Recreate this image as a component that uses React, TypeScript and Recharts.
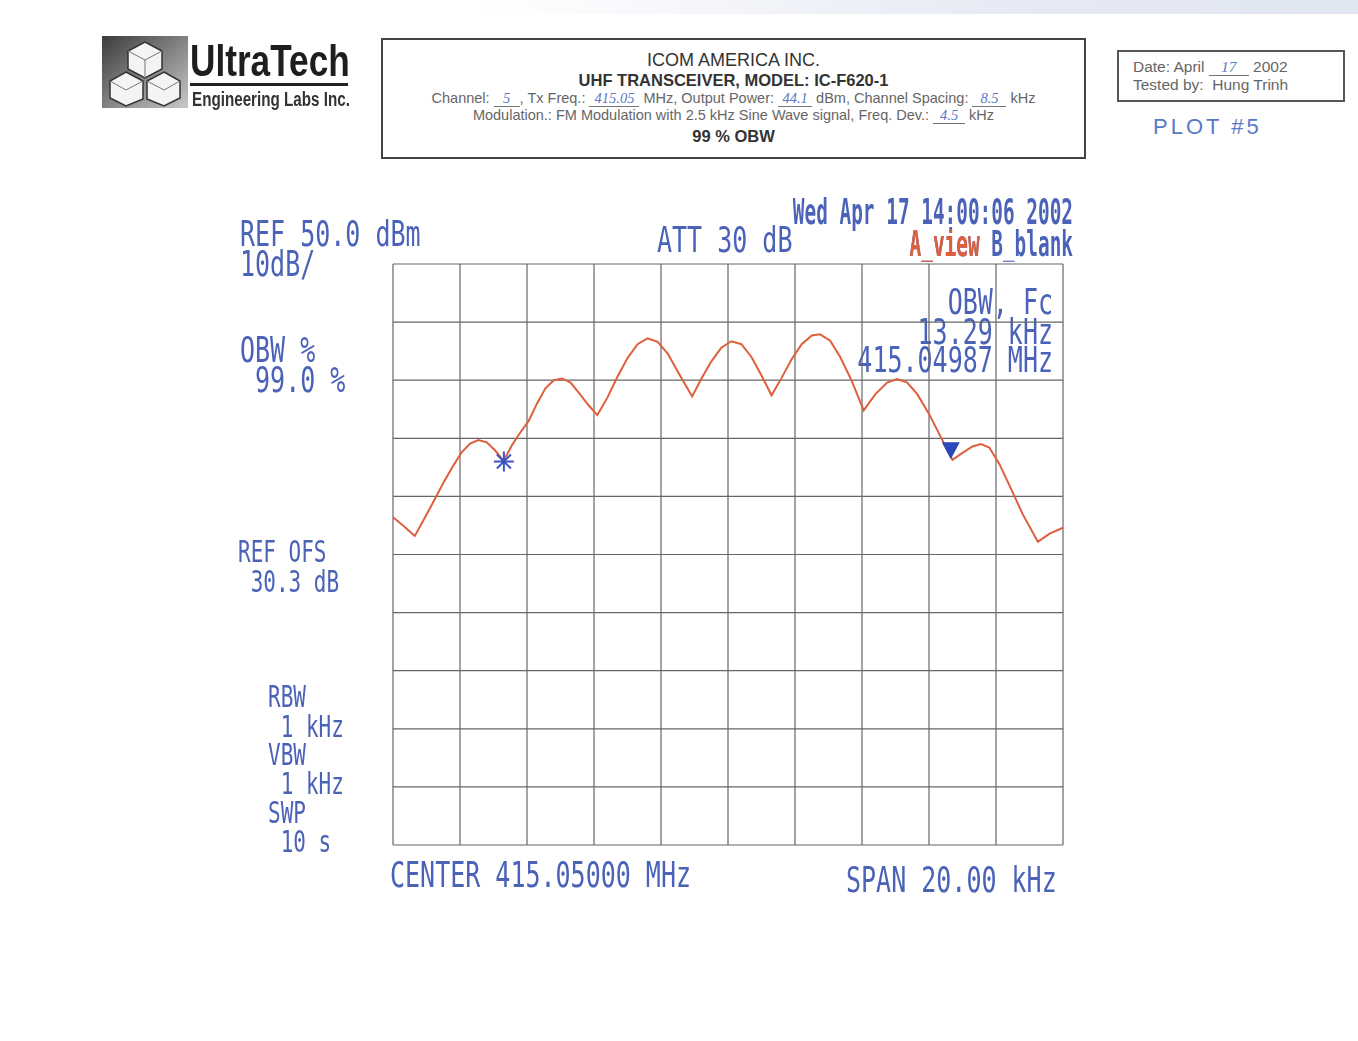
import React from 'react';
import {
  ComposedChart, Line, XAxis, YAxis, ReferenceLine, ReferenceDot,
} from 'recharts';

// frequency offset from centre (kHz) and level (dBm) of the A trace
const freqKHz = [
  -10.0, -9.7, -9.35, -9.1, -8.8, -8.5, -8.2, -7.95, -7.7, -7.45, -7.2, -6.95, -6.7,
  -6.45, -6.2, -5.95, -5.7, -5.45, -5.2, -4.95, -4.7, -4.45, -4.15, -3.9,
  -3.6, -3.3, -3.0, -2.7, -2.4, -2.1, -1.8, -1.45, -1.07,
  -0.8, -0.5, -0.2, 0.1, 0.4, 0.7, 1.0, 1.3,
  1.6, 1.9, 2.2, 2.5, 2.75, 3.05, 3.35, 3.7, 4.05,
  4.4, 4.75, 5.05, 5.35, 5.65, 6.0, 6.3, 6.7,
  7.0, 7.3, 7.55, 7.8, 8.1, 8.45, 8.8, 9.25, 9.6, 10.0,
];
const levelDbm = [
  6.4, 5.0, 3.2, 5.8, 9.0, 12.3, 15.3, 17.6, 19.1, 19.7, 19.3, 17.9, 16.1,
  18.8, 21.0, 23.0, 26.0, 28.6, 30.0, 30.3, 29.6, 27.8, 25.6, 24.0,
  27.0, 30.6, 33.8, 36.2, 37.2, 36.6, 34.6, 31.0, 27.2,
  30.2, 33.2, 35.6, 36.7, 36.2, 34.0, 30.8, 27.4,
  30.4, 33.6, 36.2, 37.7, 37.9, 36.8, 34.0, 29.8, 24.8,
  27.6, 29.6, 30.2, 29.6, 27.6, 24.2, 20.8, 16.3,
  17.5, 18.6, 19.0, 18.4, 15.6, 11.3, 6.9, 2.2, 3.6, 4.6,
];

// OBW edge markers (kHz, dBm)
const obwLow = { f: -6.69, p: 16.0 };
const obwHigh = { f: 6.65, p: 16.4 };

// graticule: 2 kHz/div, 10 dB/div from REF 50 dBm
const xTicks = [-10, -8, -6, -4, -2, 0, 2, 4, 6, 8, 10];
const yTicks = [-50, -40, -30, -20, -10, 0, 10, 20, 30, 40, 50];

const trace = freqKHz.map((f, i) => ({ f, p: levelDbm[i] }));

const BLUE = '#4a62b8';
const RED = '#df5f3d';
const GRID = '#666';
const MONO = '"DejaVu Sans Mono", monospace';
const SANS = '"Liberation Sans", Arial, sans-serif';

type TProps = {
  x: number; y: number; children: React.ReactNode;
  size?: number; sy?: number; gap?: number; color?: string; bold?: boolean; right?: boolean;
  extra?: React.CSSProperties;
};

// plotter-style tall narrow text; y is the top of the capitals, gap the line pitch in px
const T = ({ x, y, children, size = 25, sy = 1.41, gap = 29, color = BLUE, bold, right, extra }: TProps) => {
  const lh = gap / (size * sy);
  return (
    <div
      style={{
        position: 'absolute',
        left: right ? undefined : x,
        right: right ? 1358 - x : undefined,
        top: y - (lh / 2 - 0.383) * size * sy,
        fontFamily: MONO,
        fontSize: size,
        lineHeight: lh,
        fontWeight: bold ? 'bold' : 'normal',
        color,
        whiteSpace: 'pre',
        textAlign: right ? 'right' : 'left',
        transform: `scaleY(${sy})`,
        transformOrigin: right ? 'top right' : 'top left',
        ...extra,
      }}
    >
      {children}
    </div>
  );
};

const Hand = ({ children, w }: { children: React.ReactNode; w: number }) => (
  <span
    style={{
      display: 'inline-block', minWidth: w, borderBottom: '1px solid #777',
      color: '#5a78c8', fontStyle: 'italic', fontFamily: '"Liberation Serif", serif',
      textAlign: 'center', lineHeight: 1,
    }}
  >
    {children}
  </span>
);

const Asterisk = ({ cx, cy }: { cx?: number; cy?: number }) => {
  if (cx == null || cy == null) return null;
  const r = 10;
  return (
    <g stroke="#3b55c0" strokeWidth={2}>
      <line x1={cx - r} y1={cy} x2={cx + r} y2={cy} />
      <line x1={cx} y1={cy - r} x2={cx} y2={cy + r} />
      <line x1={cx - 7} y1={cy - 7} x2={cx + 7} y2={cy + 7} />
      <line x1={cx - 7} y1={cy + 7} x2={cx + 7} y2={cy - 7} />
    </g>
  );
};

const Triangle = ({ cx, cy }: { cx?: number; cy?: number }) => {
  if (cx == null || cy == null) return null;
  return <polygon points={`${cx - 9},${cy - 17} ${cx + 9},${cy - 17} ${cx},${cy}`} fill="#2b47b8" />;
};

const Logo = () => (
  <svg width={86} height={72} style={{ position: 'absolute', left: 102, top: 36 }}>
    <defs>
      <linearGradient id="lg" x1="0" y1="0" x2="1" y2="1">
        <stop offset="0" stopColor="#3c3c3c" />
        <stop offset="1" stopColor="#c8c8c8" />
      </linearGradient>
    </defs>
    <rect width={86} height={72} fill="url(#lg)" />
    <g fill="#f4f4f4" stroke="#333" strokeWidth={1.5}>
      <polygon points="43,6 60,15 60,33 43,42 26,33 26,15" />
      <polygon points="24,36 41,45 41,63 24,70 8,62 8,45" />
      <polygon points="62,36 78,45 78,62 62,70 45,63 45,45" />
    </g>
    <g fill="none" stroke="#777" strokeWidth={1}>
      <polyline points="26,15 43,24 60,15" />
      <line x1={43} y1={24} x2={43} y2={42} />
      <polyline points="8,45 24,54 41,45" />
      <polyline points="45,45 62,54 78,45" />
    </g>
  </svg>
);

// header block: date line, then trace states; "A_view" is painted red
const HS = 19.4;
const HSY = 1.8;
const HGAP = 32;
const cw = HS * 0.602;
const hdrLines = ['Wed Apr 17 14:00:06 2002', 'A_view B_blank'];
const redX = (hdrLines[0].length - hdrLines[1].length) * cw;
const redStyle: React.CSSProperties = {
  background: `linear-gradient(${RED}, ${RED}) ${redX - 1}px ${HGAP / HSY}px / ${6 * cw + 2}px ${HGAP / HSY + 4}px no-repeat, ${BLUE}`,
  WebkitBackgroundClip: 'text',
  backgroundClip: 'text',
  WebkitTextFillColor: 'transparent',
  color: 'transparent',
};

export default function App() {
  return (
    <div style={{ position: 'absolute', left: 0, top: 0, width: 1358, height: 1041, background: '#fff', overflow: 'hidden' }}>
      <div style={{ position: 'absolute', left: 480, top: 0, width: 878, height: 14, background: 'linear-gradient(90deg, #fff, #e6eaf4 60%, #e0e6f2)' }} />

      <Logo />
      <div style={{ position: 'absolute', left: 190, top: 39, fontFamily: SANS, fontWeight: 'bold', fontSize: 44, lineHeight: 1, color: '#1e1e1e', transform: 'scaleX(0.8)', transformOrigin: 'top left' }}>
        UltraTech
      </div>
      <div style={{ position: 'absolute', left: 190, top: 83, width: 158, height: 3, background: '#222' }} />
      <div style={{ position: 'absolute', left: 192, top: 89, fontFamily: SANS, fontWeight: 'bold', fontSize: 20, lineHeight: 1, color: '#333', transform: 'scaleX(0.76)', transformOrigin: 'top left' }}>
        Engineering Labs Inc.
      </div>

      <div style={{ position: 'absolute', left: 381, top: 38, width: 701, height: 117, border: '2px solid #444', fontFamily: SANS, textAlign: 'center', color: '#333' }}>
        <div style={{ marginTop: 10, fontSize: 18, lineHeight: '20px', fontWeight: 500 }}>ICOM AMERICA INC.</div>
        <div style={{ fontSize: 16.5, fontWeight: 'bold', lineHeight: '20px' }}>UHF TRANSCEIVER, MODEL: IC-F620-1</div>
        <div style={{ fontSize: 14.5, lineHeight: '17px', color: '#666' }}>
          Channel: <Hand w={26}>5</Hand>, Tx Freq.: <Hand w={50}>415.05</Hand> MHz, Output Power: <Hand w={34}>44.1</Hand> dBm, Channel Spacing: <Hand w={34}>8.5</Hand> kHz
        </div>
        <div style={{ fontSize: 14.5, lineHeight: '17px', color: '#666' }}>
          Modulation.: FM Modulation with 2.5 kHz Sine Wave signal, Freq. Dev.: <Hand w={32}>4.5</Hand> kHz
        </div>
        <div style={{ fontSize: 16.5, fontWeight: 'bold', lineHeight: '24px' }}>99 % OBW</div>
      </div>

      <div style={{ position: 'absolute', left: 1117, top: 50, width: 228, height: 52, border: '2px solid #555', fontFamily: SANS, fontSize: 15.5, color: '#666', lineHeight: '17px', paddingLeft: 14, paddingTop: 6, boxSizing: 'border-box' }}>
        <div>Date: April <Hand w={40}>17</Hand> 2002</div>
        <div>Tested by:&nbsp; Hung Trinh</div>
      </div>
      <div style={{ position: 'absolute', left: 1153, top: 114, fontFamily: SANS, fontSize: 22, color: '#5a78c8', letterSpacing: 3, fontWeight: 300 }}>
        PLOT #5
      </div>

      <T x={240} y={222}>{'REF 50.0 dBm\n10dB/'}</T>
      <T x={657} y={228}>ATT 30 dB</T>
      <T x={1073} y={200} size={HS} sy={HSY} gap={HGAP} bold right extra={redStyle}>{hdrLines.join('\n')}</T>
      <T x={1053} y={290} right>{'OBW, Fc\n13.29 kHz\n415.04987 MHz'}</T>
      <T x={240} y={338}>{'OBW %\n 99.0 %'}</T>
      <T x={238} y={541} size={21}>{'REF OFS\n 30.3 dB'}</T>
      <T x={268} y={686} size={21}>{'RBW\n 1 kHz\nVBW\n 1 kHz\nSWP\n 10 s'}</T>
      <T x={390} y={863}>CENTER 415.05000 MHz</T>
      <T x={846} y={868}>SPAN 20.00 kHz</T>

      <div style={{ position: 'absolute', left: 383, top: 254 }}>
        <ComposedChart width={690} height={601} data={trace} margin={{ top: 10, right: 10, bottom: 10, left: 10 }}>
          <XAxis type="number" dataKey="f" domain={[-10, 10]} ticks={xTicks} tick={false} tickLine={false} axisLine={false} height={0} />
          <YAxis type="number" domain={[-50, 50]} ticks={yTicks} tick={false} tickLine={false} axisLine={false} width={0} />
          {xTicks.map((t) => (
            <ReferenceLine key={`x${t}`} x={t} stroke={GRID} strokeWidth={1.2} />
          ))}
          {yTicks.map((t) => (
            <ReferenceLine key={`y${t}`} y={t} stroke={GRID} strokeWidth={1.2} />
          ))}
          <Line type="linear" dataKey="p" stroke={RED} strokeWidth={2} dot={false} isAnimationActive={false} />
          <ReferenceDot x={obwLow.f} y={obwLow.p} r={0} shape={(pr: any) => <Asterisk cx={pr.cx} cy={pr.cy} />} />
          <ReferenceDot x={obwHigh.f} y={obwHigh.p} r={0} shape={(pr: any) => <Triangle cx={pr.cx} cy={pr.cy} />} />
        </ComposedChart>
      </div>
    </div>
  );
}
